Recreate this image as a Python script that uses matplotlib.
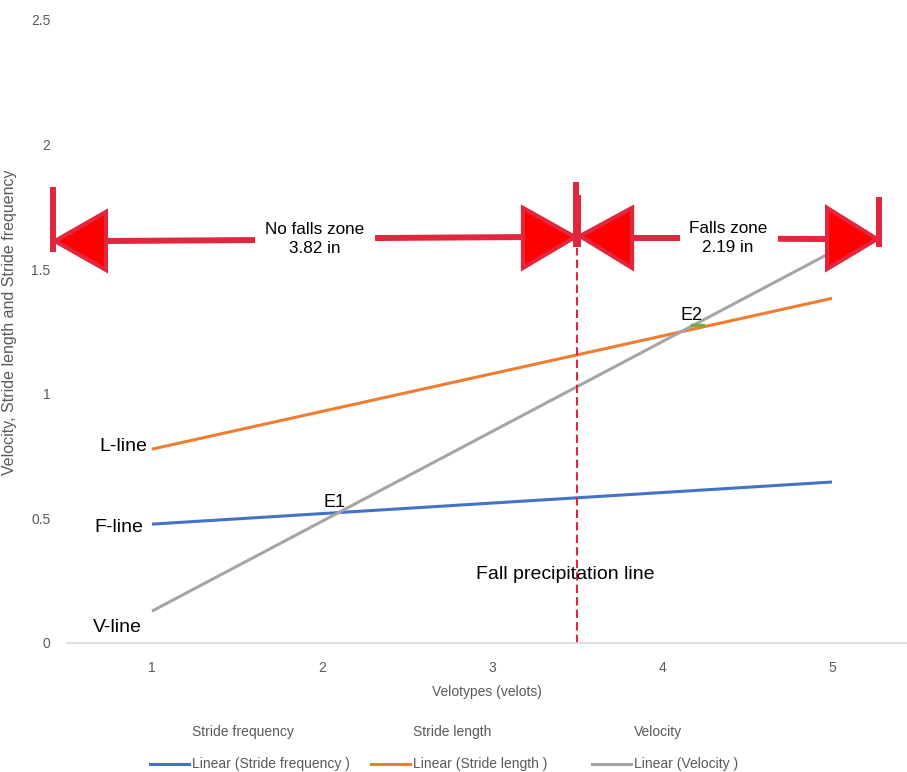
import numpy as np
import matplotlib
matplotlib.use("Agg")
import matplotlib.pyplot as plt
from matplotlib.patches import Polygon
from matplotlib.lines import Line2D

plt.rcParams['font.family'] = ['Liberation Sans', 'DejaVu Sans']

# data: linear trend lines (value at first and last velotype)
categories = [1, 2, 3, 4, 5]
trend_x = [1, 5]
series_names = ["Stride frequency", "Stride length", "Velocity"]
trend_names = ["Linear (Stride frequency )", "Linear (Stride length )", "Linear (Velocity )"]
freq_trend = [0.477, 0.646]
length_trend = [0.778, 1.383]
velocity_trend = [0.128, 1.569]
colors = ["#4472C4", "#ED7D31", "#A5A5A5"]
yticks = [0, 0.5, 1, 1.5, 2, 2.5]
ytick_labels = ["0", "0.5", "1", "1.5", "2", "2.5"]
fall_line_x = 3.5

grey = "#595959"
red_edge = "#E3263E"

fig = plt.figure(figsize=(9.07, 7.72), dpi=100)
ax = fig.add_axes([0.0739, 0.1671, 0.9261, 0.807])

for vals, c in zip([freq_trend, length_trend, velocity_trend], colors):
    ax.plot(trend_x, vals, color=c, lw=2.2, solid_capstyle="butt")

ax.set_xlim(0.5, 0.5 + 840 / 170)
ax.set_ylim(0, 2.5)
ax.set_xticks(categories)
ax.set_xticklabels([str(c) for c in categories])
ax.set_yticks(yticks)
ax.set_yticklabels(ytick_labels)
ax.tick_params(axis="both", length=0, labelsize=10, colors=grey)
ax.tick_params(axis="y", pad=12)
ax.tick_params(axis="x", pad=13)
for s in ["top", "right", "left"]:
    ax.spines[s].set_visible(False)
ax.spines["bottom"].set_color("#D9D9D9")
ax.spines["bottom"].set_linewidth(1.2)
ax.set_xlabel("Velotypes (velots)", fontsize=10, color=grey, labelpad=7)
ax.set_ylabel("Velocity, Stride length and Stride frequency", fontsize=11.5, color=grey)
ax.yaxis.set_label_coords(-0.0595, 0.515)

# fall precipitation line
ax.plot([fall_line_x, fall_line_x], [0, 1.585], color=red_edge, lw=1.5, ls=(0, (4, 2)))
ax.text(3.429, 0.273, "Fall precipitation line", fontsize=14, ha="center", va="center")

# line labels
ax.text(0.97, 0.79, "L-line", fontsize=14, ha="right", va="center")
ax.text(0.947, 0.465, "F-line", fontsize=14, ha="right", va="center")
ax.text(0.941, 0.064, "V-line", fontsize=14, ha="right", va="center")
ax.text(2.076, 0.562, "E1", fontsize=13, ha="center", va="center")
ax.text(4.176, 1.316, "E2", fontsize=13, ha="center", va="center")
ax.plot([4.176, 4.241], [1.276, 1.276], color="#70AD47", lw=2.5)


def head(tip_x, tip_y, base_x, top, bot):
    p = Polygon([(tip_x, tip_y), (base_x, top), (base_x, bot)], closed=True,
                facecolor="#FF0000", edgecolor=red_edge, lw=3, clip_on=False, zorder=5)
    ax.add_patch(p)


def bar(x, y0, y1):
    ax.plot([x, x], [y0, y1], color=red_edge, lw=4.3, solid_capstyle="butt", clip_on=False, zorder=6)


# shafts
for xs, ys in [([0.729, 1.606], [1.613, 1.617]), ([2.312, 3.182], [1.625, 1.629]),
               ([3.824, 4.106], [1.627, 1.627]), ([4.682, 4.971], [1.622, 1.621])]:
    ax.plot(xs, ys, color=red_edge, lw=4.3, solid_capstyle="butt", clip_on=False, zorder=4)

head(0.429, 1.613, 0.729, 1.730, 1.497)
head(3.488, 1.629, 3.182, 1.746, 1.505)
head(3.518, 1.633, 3.824, 1.746, 1.505)
head(5.265, 1.621, 4.971, 1.746, 1.501)

bar(0.418, 1.569, 1.830)
bar(3.494, 1.589, 1.850)
bar(3.506, 1.589, 1.798)
bar(5.276, 1.588, 1.790)

ax.text(1.959, 1.621, "No falls zone\n3.82 in", fontsize=12.3, ha="center", va="center", linespacing=1.35)
ax.text(4.388, 1.625, "Falls zone\n2.19 in", fontsize=12.3, ha="center", va="center", linespacing=1.35)

# legend drawn by hand (Excel style, equal column widths)
col_step = 221 / 907
row1_y = 1 - 732 / 772
row2_y = 1 - 764 / 772
for i, (name, tname, c) in enumerate(zip(series_names, trend_names, colors)):
    x0 = 150 / 907 + i * col_step
    fig.text(x0 + 42 / 907, row1_y, name, fontsize=10, color=grey, va="center")
    fig.add_artist(Line2D([x0, x0 + 39 / 907], [row2_y, row2_y], color=c, lw=2.2,
                          transform=fig.transFigure))
    fig.text(x0 + 42 / 907, row2_y, tname, fontsize=10, color=grey, va="center")

fig.savefig("out.png", dpi=100)
